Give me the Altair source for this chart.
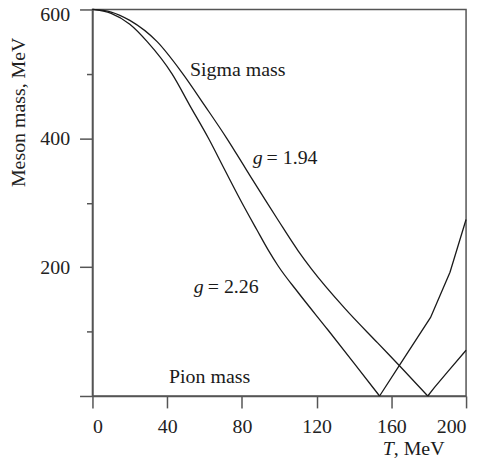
import altair as alt
import pandas as pd

# g = 2.26 curve: falling branch and rising branch
t_lo_fall = [0, 10, 20, 29.3, 42.6, 52.3, 62.1, 71, 80, 88, 94.2, 99.6, 110, 126.2, 140, 153.7]
m_lo_fall = [600, 594, 577, 550, 500, 450, 400, 350, 300, 258, 226, 201, 161, 102, 51, 0]
t_lo_rise = [153.7, 164.4, 181, 191.4, 200]
m_lo_rise = [0, 48, 122, 192, 274]
# g = 1.94 curve: falling branch and rising branch
t_hi_fall = [0, 10, 20, 34.6, 47.9, 60.3, 71.9, 82, 93, 99.6, 110.2, 117.3, 135.1, 152.8, 165, 179.5]
m_hi_fall = [600, 596, 583, 550, 502, 450, 400, 353, 302, 272, 225, 197, 136, 82, 45, 0]
t_hi_rise = [179.5, 183, 190, 200]
m_hi_rise = [0, 13, 37, 71]

x_ticks = list(range(0, 201, 20))
y_ticks = list(range(0, 601, 100))

# annotations: text, T, mass, italic, align, dx
ann_text = ["Sigma mass", "g", "= 1.94", "g", "= 2.26", "Pion mass", "T", ", MeV"]
ann_t = [52.2, 91.1, 91.1, 59.6, 59.6, 41, 161.3, 161.3]
ann_m = [506, 370, 370, 169, 169, 30, -83, -83]
ann_style = ["normal", "italic", "normal", "italic", "normal", "normal", "italic", "normal"]
ann_align = ["left", "right", "left", "right", "left", "left", "right", "left"]
ann_dx = [0, 0, 4, 0, 4, 0, 0, 0]

fall = pd.concat([
    pd.DataFrame({"T": t_lo_fall, "m": m_lo_fall, "series": "g=2.26"}),
    pd.DataFrame({"T": t_hi_fall, "m": m_hi_fall, "series": "g=1.94"}),
])
rise = pd.concat([
    pd.DataFrame({"T": t_lo_rise, "m": m_lo_rise, "series": "g=2.26"}),
    pd.DataFrame({"T": t_hi_rise, "m": m_hi_rise, "series": "g=1.94"}),
])
ann = pd.DataFrame({"text": ann_text, "T": ann_t, "m": ann_m, "style": ann_style,
                    "align": ann_align, "dx": ann_dx})

FONT = "Liberation Serif"
AX = "#555555"

xscale = alt.Scale(domain=[0, 200], nice=False, zero=False)
yscale = alt.Scale(domain=[0, 600], nice=False, zero=False)

xaxis = alt.Axis(
    values=x_ticks, title=None, grid=False,
    labelExpr="datum.value % 40 === 0 ? datum.label : ''",
    tickSize={"condition": {"test": "datum.value % 40 === 0", "value": 12}, "value": 7},
    labelFont=FONT, labelFontSize=20, labelColor="#222", labelPadding=9,
    domainColor=AX, domainWidth=1.5, tickColor=AX, tickWidth=1.5,
)
yaxis = alt.Axis(
    values=y_ticks, title="Meson mass, MeV", grid=False,
    labelExpr="(datum.value % 200 === 0 && datum.value > 0) ? datum.label : ''",
    tickSize={"condition": {"test": "datum.value % 200 === 0", "value": 13}, "value": 6},
    labelOffset={"condition": {"test": "datum.value === 600", "value": 5}, "value": 0},
    labelFont=FONT, labelFontSize=20, labelColor="#222", labelPadding=10,
    domainColor=AX, domainWidth=1.5, tickColor=AX, tickWidth=1.5,
    titleFont=FONT, titleFontSize=20, titleFontWeight="normal", titleColor="#222",
    titleX=-74, titleY=103, titleAngle=270, titleAlign="center", titleBaseline="middle",
)

fall_lines = alt.Chart(fall).mark_line(color="#1a1a1a", strokeWidth=1.3, interpolate="monotone").encode(
    x=alt.X("T:Q", scale=xscale, axis=xaxis),
    y=alt.Y("m:Q", scale=yscale, axis=yaxis),
    detail="series:N",
)
rise_lines = alt.Chart(rise).mark_line(color="#1a1a1a", strokeWidth=1.3).encode(
    x=alt.X("T:Q", scale=xscale),
    y=alt.Y("m:Q", scale=yscale),
    detail="series:N",
)

layers = [fall_lines, rise_lines]
for st in ["normal", "italic"]:
    for al in ["left", "right"]:
        sub = ann[(ann["style"] == st) & (ann["align"] == al)]
        if len(sub) == 0:
            continue
        for dxv in sorted(sub["dx"].unique()):
            s2 = sub[sub["dx"] == dxv]
            layers.append(
                alt.Chart(s2).mark_text(
                    font=FONT, fontSize=20, fontStyle=st, align=al, baseline="middle",
                    dx=int(dxv), color="#1a1a1a",
                ).encode(x=alt.X("T:Q", scale=xscale), y=alt.Y("m:Q", scale=yscale), text="text:N")
            )

chart = alt.layer(*layers).properties(
    width=376, height=389,
    autosize=alt.AutoSizeParams(type="none"),
    padding={"left": 85, "top": 0, "right": 10, "bottom": 70},
).configure_view(stroke=AX, strokeWidth=1.5)

chart.save("out.html", embed_options={"renderer": "svg", "actions": False})
